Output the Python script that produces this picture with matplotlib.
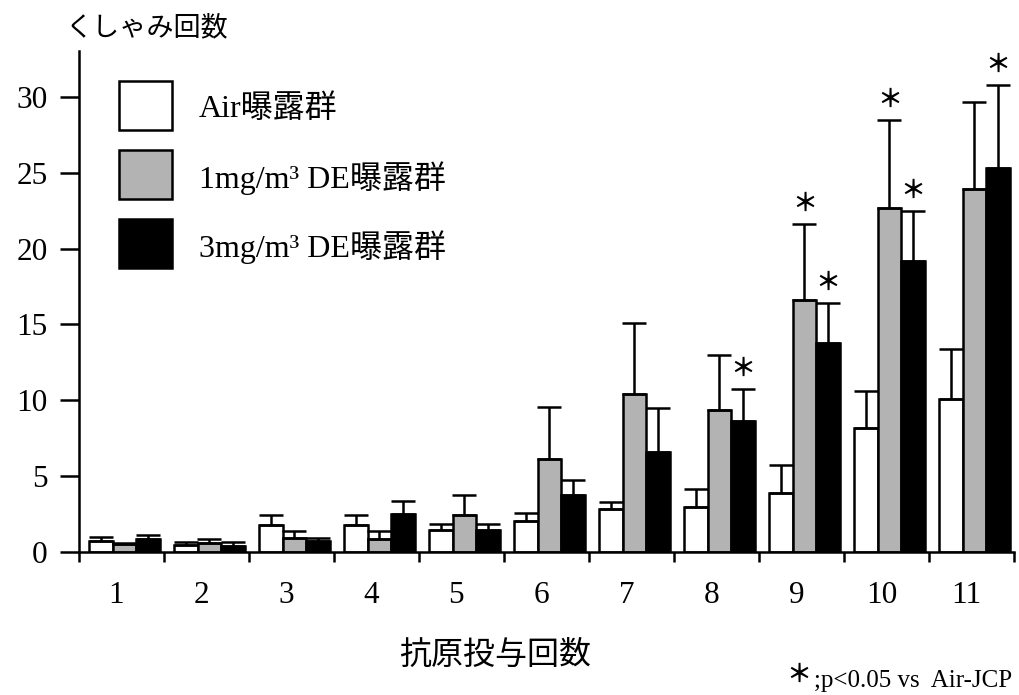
import matplotlib
matplotlib.use('Agg')
import matplotlib.pyplot as plt
import numpy as np
from matplotlib.patches import Rectangle

# ---- data ----
sessions = ['1', '2', '3', '4', '5', '6', '7', '8', '9', '10', '11']
group_labels = ['Air曝露群', '1mg/m³ DE曝露群', '3mg/m³ DE曝露群']
group_colors = ['#ffffff', '#b3b3b3', '#000000']

air_mean = [0.70, 0.46, 1.77, 1.77, 1.47, 2.02, 2.81, 2.97, 3.90, 8.16, 10.09]
air_sd   = [0.32, 0.22, 0.70, 0.70, 0.40, 0.58, 0.51, 1.17, 1.81, 2.48, 3.28]
de1_mean = [0.50, 0.57, 0.90, 0.88, 2.44, 6.11, 10.42, 9.37, 16.60, 22.68, 23.90]
de1_sd   = [0.10, 0.28, 0.50, 0.48, 1.34, 3.45, 4.68, 3.63, 5.00, 5.82, 5.77]
de3_mean = [0.85, 0.41, 0.72, 2.53, 1.43, 3.74, 6.58, 8.62, 13.80, 19.18, 25.30]
de3_sd   = [0.30, 0.25, 0.22, 0.81, 0.39, 0.99, 2.92, 2.10, 2.60, 3.32, 5.50]

# significance (p<0.05 vs Air) per group
de1_sig = [False, False, False, False, False, False, False, False, True, True, False]
de3_sig = [False, False, False, False, False, False, False, True, True, True, True]

y_ticks = [0, 5, 10, 15, 20, 25, 30]

means = [air_mean, de1_mean, de3_mean]
sds = [air_sd, de1_sd, de3_sd]
sigs = [None, de1_sig, de3_sig]

serif = 'Liberation Serif'
cjk = 'Noto Sans CJK JP'
mixed = [serif, cjk]

W, H = 1019, 695
fig = plt.figure(figsize=(W / 100, H / 100), dpi=100)
ax = fig.add_axes([79/W, 1-552/H, (1014-79)/W, (552-51.4)/H])

x = np.arange(1, len(sessions) + 1)
w = 0.28
shift = 0.035
lw = 1.8
for k in range(3):
    xp = x + shift + (k - 1) * w
    ax.bar(xp, means[k], w, color=group_colors[k], edgecolor='black',
           linewidth=lw, zorder=2)
    ax.errorbar(xp, means[k], yerr=[np.zeros(len(x)), sds[k]], fmt='none',
                ecolor='black', elinewidth=lw, capsize=8.5, capthick=lw, zorder=3)
    if sigs[k] is not None:
        for xi, m, s, flag in zip(xp, means[k], sds[k], sigs[k]):
            if flag:
                ax.annotate('＊', xy=(xi, m + s), xytext=(0, 14.5),
                            textcoords='offset points', ha='center',
                            va='center', fontsize=18, family=cjk,
                            fontweight='bold', zorder=4)

ax.set_xlim(0.5, len(sessions) + 0.5)
ax.set_ylim(0, 33)

ax.set_xticks(np.arange(0.5, len(sessions) + 1, 1.0))
ax.set_xticklabels([])
ax.set_xticks(x - 0.06, minor=True)
ax.set_xticklabels(sessions, minor=True, fontsize=22.5, family=serif)
ax.tick_params(axis='x', which='major', direction='out', length=7.5, width=lw)
ax.tick_params(axis='x', which='minor', length=0, pad=21)

ax.set_yticks(y_ticks)
ax.set_yticklabels([str(v) for v in y_ticks], fontsize=22.5, family=serif)
ax.tick_params(axis='y', direction='out', length=13.7, width=lw, pad=9)

for side in ['top', 'right']:
    ax.spines[side].set_visible(False)
for side in ['left', 'bottom']:
    ax.spines[side].set_linewidth(lw)

# legend (drawn as boxes with labels)
for k, (lab, col) in enumerate(zip(group_labels, group_colors)):
    top = 81 + 69 * k
    fig.add_artist(Rectangle((119/W, 1-(top+49)/H), 53/W, 49/H,
                             transform=fig.transFigure, facecolor=col,
                             edgecolor='black', linewidth=lw))
    fig.text(199/W, 1-(top+28)/H, lab, ha='left', va='center',
             fontsize=23, family=mixed)

fig.text(65/W, 1-28/H, 'くしゃみ回数', ha='left', va='center',
         fontsize=19.5, family=cjk)
fig.text(495/W, 1-655/H, '抗原投与回数', ha='center', va='center',
         fontsize=23, family=cjk)
note = fig.text(1012/W, 1-687/H, ';p<0.05 vs  Air-JCP', ha='right',
                va='baseline', fontsize=18, family=serif)
fig.canvas.draw()
bb = note.get_window_extent()
fig.text((bb.x0 - 3) / W, 1-675/H, '＊', ha='right', va='center',
         fontsize=18, family=cjk, fontweight='bold')

fig.savefig('out.png', dpi=100)
